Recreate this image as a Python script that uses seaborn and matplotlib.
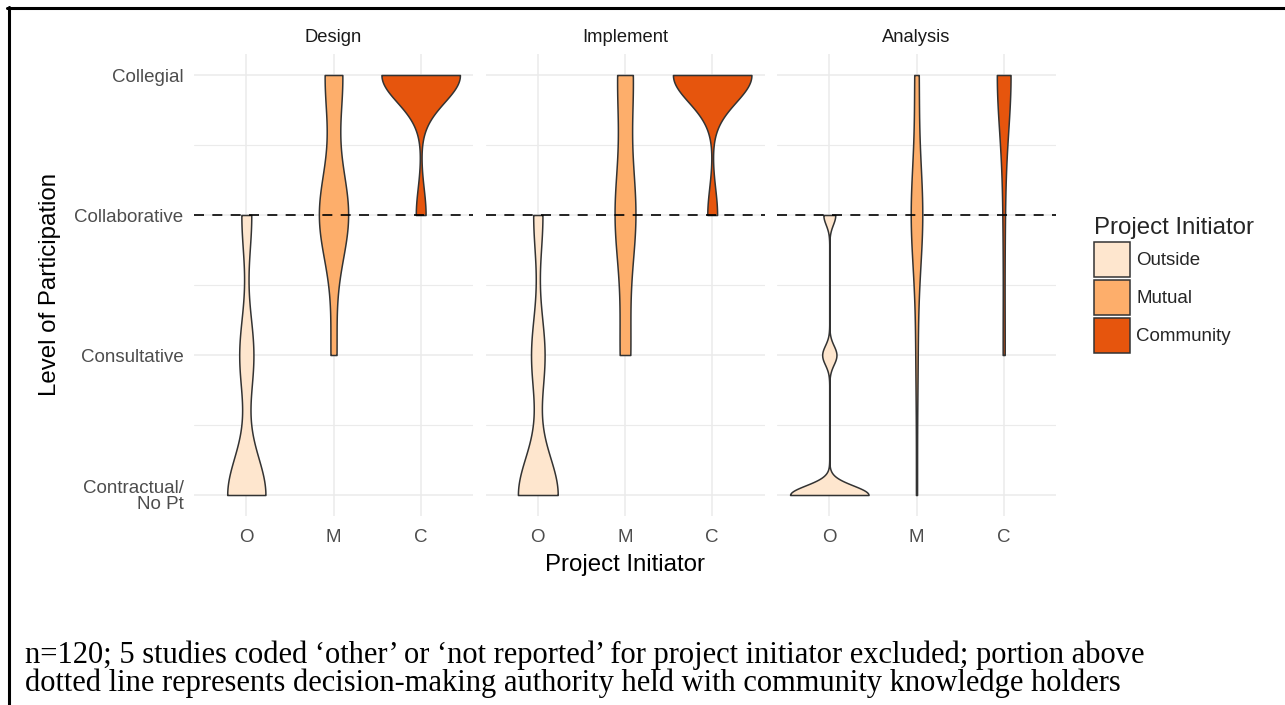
import numpy as np
import pandas as pd
import matplotlib
matplotlib.use("Agg")
import matplotlib.pyplot as plt
from matplotlib.patches import Patch
from matplotlib.lines import Line2D
import seaborn as sns

# ------------------------------------------------------------------ data
phases = ["Design", "Implement", "Analysis"]
initiators = ["O", "M", "C"]
initiator_names = ["Outside", "Mutual", "Community"]
levels = [1, 2, 3, 4]
level_labels = ["Contractual/\nNo Pt", "Consultative", "Collaborative", "Collegial"]

# number of studies at each level: Contractual/No Pt, Consultative, Collaborative, Collegial
design_O = [54, 20, 14, 0]
design_M = [0, 2, 10, 6]
design_C = [0, 0, 1, 8]
implement_O = [56, 19, 13, 0]
implement_M = [0, 4, 8, 6]
implement_C = [0, 0, 1, 8]
analysis_O = [66, 12, 10, 0]
analysis_M = [1, 2, 11, 4]
analysis_C = [0, 1, 1, 7]

colors = ["#FEE6CE", "#FDAE6B", "#E6550D"]
authority_level = 3
caption_lines = [
    "n=120; 5 studies coded \u2018other\u2019 or \u2018not reported\u2019 for project initiator excluded; portion above",
    "dotted line represents decision-making authority held with community knowledge holders",
]

# ------------------------------------------------------------------ long table
phase_counts = {
    "Design": [design_O, design_M, design_C],
    "Implement": [implement_O, implement_M, implement_C],
    "Analysis": [analysis_O, analysis_M, analysis_C],
}
rows = []
for phase in phases:
    for ini, cnts in zip(initiators, phase_counts[phase]):
        for lev, c in zip(levels, cnts):
            rows += [(phase, ini, lev)] * c
df = pd.DataFrame(rows, columns=["phase", "initiator", "level"])


def nrd0_factor(kde):
    """Silverman's rule (R bw.nrd0, ggplot2 default) as a gaussian_kde factor."""
    x = np.asarray(kde.dataset[0], dtype=float)
    sd = np.std(x, ddof=1)
    q75, q25 = np.percentile(x, [75, 25])
    lo = min(sd, (q75 - q25) / 1.34)
    if lo == 0:
        lo = sd
    bw = 0.9 * lo * len(x) ** (-0.2)
    return bw / sd


# ------------------------------------------------------------------ style
sns.set_style("white")
plt.rcParams["font.family"] = ["Liberation Sans", "DejaVu Sans"]

W, H = 1285, 705
fig = plt.figure(figsize=(W / 100, H / 100), dpi=100)
fig.patch.set_facecolor("white")

panel_lefts = [194, 485.5, 777]
panel_w = 279
top_px, bot_px = 54, 516
palette = dict(zip(initiators, colors))
grid_c = "#EBEBEB"

for i, phase in enumerate(phases):
    ax = fig.add_axes([panel_lefts[i] / W, 1 - bot_px / H,
                       panel_w / W, (bot_px - top_px) / H])
    sub = df[df["phase"] == phase]
    sns.violinplot(data=sub, x="initiator", y="level", hue="initiator",
                   order=initiators, hue_order=initiators, palette=palette,
                   saturation=1, inner=None, cut=0, gridsize=512,
                   bw_method=nrd0_factor, density_norm="area", common_norm=True,
                   width=0.9, linewidth=1.1, linecolor="#333333",
                   legend=False, ax=ax)
    ax.axhline(authority_level, color="black", lw=1.2,
               ls=(0, (6.0, 5.0)), zorder=5)
    ax.set_xlim(-0.6, 2.6)
    ax.set_ylim(0.85, 4.15)
    ax.set_yticks(levels)
    ax.set_yticks([1.5, 2.5, 3.5], minor=True)
    ax.set_axisbelow(True)
    ax.grid(True, which="major", axis="both", color=grid_c, lw=1.1)
    ax.grid(True, which="minor", axis="y", color=grid_c, lw=0.8)
    for s in ax.spines.values():
        s.set_visible(False)
    ax.set_xlabel("")
    ax.set_ylabel("")
    ax.tick_params(axis="both", which="both", length=0, labelsize=13.5,
                   labelcolor="#4D4D4D")
    ax.tick_params(axis="x", pad=9.5)
    ax.tick_params(axis="y", pad=7.5)
    if i == 0:
        ax.set_yticklabels(level_labels)
        for t in ax.get_yticklabels():
            t.set_linespacing(0.95)
    else:
        ax.tick_params(axis="y", labelleft=False)
    ax.set_title(phase, fontsize=13.2, color="#1A1A1A", pad=8.6)

# axis titles
fig.text(625 / W, 1 - 565 / H, "Project Initiator", fontsize=17.3,
         ha="center", va="center", color="black")
fig.text(50 / W, 1 - 285 / H, "Level of Participation", fontsize=17.3,
         ha="center", va="center", rotation=90, color="black")

# legend
handles = [Patch(facecolor=c, edgecolor="#333333", lw=1.1, label=n)
           for c, n in zip(colors, initiator_names)]
fig.legend(handles=handles, title="Project Initiator", loc="upper left",
           bbox_to_anchor=(1094 / W, 1 - 217 / H), frameon=False,
           fontsize=13.5, title_fontsize=17.3, handlelength=1.93,
           handleheight=2.5, handletextpad=0.32, labelspacing=0.16,
           borderpad=0, borderaxespad=0, alignment="left")

# caption
for k, line in enumerate(caption_lines):
    fig.text(25 / W, 1 - (663 + 28 * k) / H, line, fontsize=22,
             family=["Liberation Serif", "DejaVu Serif"], ha="left",
             va="baseline", color="black")

# frame (table cell borders)
fig.add_artist(Line2D([7 / W, 1.0], [1 - 7.5 / H, 1 - 7.5 / H],
                      color="black", lw=2.2, transform=fig.transFigure))
fig.add_artist(Line2D([8.5 / W, 8.5 / W], [0.0, 1 - 6.5 / H],
                      color="black", lw=2.2, transform=fig.transFigure))

fig.savefig("out.png", dpi=100)
